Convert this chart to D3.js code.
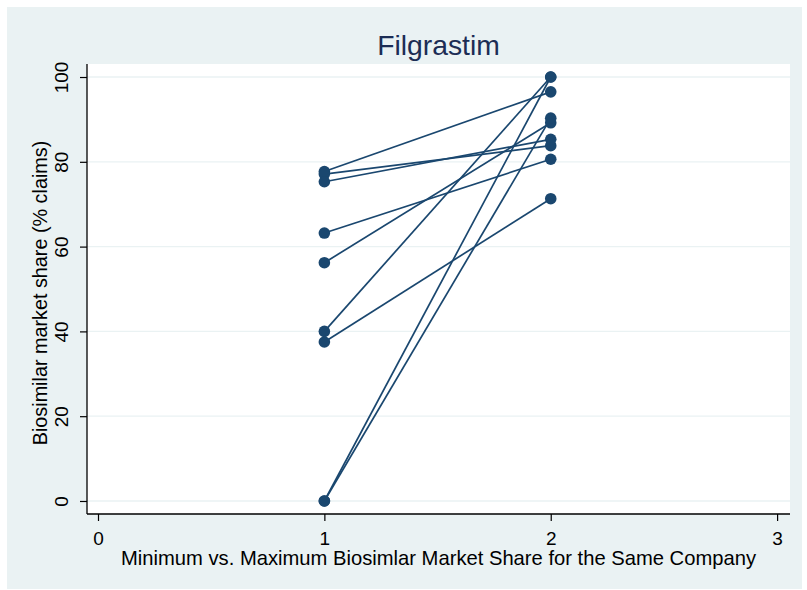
<!DOCTYPE html>
<html>
<head>
<meta charset="utf-8">
<script src="https://cdn.jsdelivr.net/npm/d3@7"></script>
<style>
  html, body { margin: 0; padding: 0; background: #ffffff; }
  svg { display: block; font-family: "Liberation Sans", Arial, sans-serif; }
</style>
</head>
<body>
<svg id="chart" width="807" height="590"></svg>
<script>
// ---- data ----
const chartTitle = "Filgrastim";
const xTitle = "Minimum vs. Maximum Biosimlar Market Share for the Same Company";
const yTitle = "Biosimilar market share (% claims)";
const xTicks = [0, 1, 2, 3];
const yTicks = [0, 20, 40, 60, 80, 100];
const minPosition = 1;
const maxPosition = 2;
// minimum share (x = 1) and maximum share (x = 2) for the same company
const minShare = [77.7, 77.1, 75.3, 63.2, 56.2, 40.0, 37.5, 0.0, 0.0];
const maxShare = [96.5, 83.8, 85.3, 80.6, 89.2, 100.0, 71.3, 100.0, 90.3];

// ---- layout ----
const svg = d3.select("#chart");
const plot = { left: 87, right: 790, top: 64, bottom: 514 };
const navy = "#1a476f";
const bg = "#eaf2f3";

const x = d3.scaleLinear().domain([-0.0486, 3.057]).range([plot.left, plot.right]);
const y = d3.scaleLinear().domain([-3.07, 103.07]).range([plot.bottom, plot.top]);

// outer background
svg.append("rect").attr("x", 7).attr("y", 7).attr("width", 795).attr("height", 582).attr("fill", bg);
// plot region
svg.append("rect").attr("x", plot.left).attr("y", plot.top)
  .attr("width", plot.right - plot.left).attr("height", plot.bottom - plot.top).attr("fill", "#ffffff");

// gridlines
svg.append("g").selectAll("line").data(yTicks).join("line")
  .attr("x1", plot.left).attr("x2", plot.right)
  .attr("y1", d => y(d)).attr("y2", d => y(d))
  .attr("stroke", bg).attr("stroke-width", 1.3);

// y axis
const yAxis = d3.axisLeft(y).tickValues(yTicks).tickSize(7).tickPadding(5).tickFormat(d3.format("d"));
const gy = svg.append("g").attr("transform", `translate(${plot.left},0)`).call(yAxis);
gy.select(".domain").attr("d", `M0,${plot.top}V${plot.bottom}`).attr("stroke", "#000").attr("stroke-width", 1.3);
gy.selectAll(".tick line").attr("stroke", "#000").attr("stroke-width", 1.2);
gy.selectAll(".tick text")
  .attr("font-size", 19).attr("fill", "#000")
  .attr("text-anchor", "middle")
  .attr("x", null).attr("dy", null)
  .attr("transform", "translate(-19,0) rotate(-90)");

// x axis
const xAxis = d3.axisBottom(x).tickValues(xTicks).tickSize(7).tickPadding(5).tickFormat(d3.format("d"));
const gx = svg.append("g").attr("transform", `translate(0,${plot.bottom})`).call(xAxis);
gx.select(".domain").attr("d", `M${plot.left},0H${plot.right}`).attr("stroke", "#000").attr("stroke-width", 1.3);
gx.selectAll(".tick line").attr("stroke", "#000").attr("stroke-width", 1.2);
gx.selectAll(".tick text").attr("font-size", 19).attr("fill", "#000").attr("y", 31).attr("dy", null);

// titles
svg.append("text").attr("x", (plot.left + plot.right) / 2).attr("y", 55)
  .attr("text-anchor", "middle").attr("font-size", 28.3).attr("fill", "#1c2d55").text(chartTitle);
svg.append("text").attr("x", 438.5).attr("y", 565)
  .attr("text-anchor", "middle").attr("font-size", 20.2).attr("fill", "#000").text(xTitle);
svg.append("text").attr("transform", `translate(47,${(plot.top + plot.bottom) / 2 + 4}) rotate(-90)`)
  .attr("text-anchor", "middle").attr("font-size", 19.8).attr("fill", "#000").text(yTitle);

// connecting lines
const pairs = minShare.map((v, i) => ({ lo: v, hi: maxShare[i] }));
svg.append("g").selectAll("line").data(pairs).join("line")
  .attr("x1", x(minPosition)).attr("y1", d => y(d.lo))
  .attr("x2", x(maxPosition)).attr("y2", d => y(d.hi))
  .attr("stroke", navy).attr("stroke-width", 1.7);

// markers
const pts = [];
pairs.forEach(d => { pts.push([minPosition, d.lo]); pts.push([maxPosition, d.hi]); });
svg.append("g").selectAll("circle").data(pts).join("circle")
  .attr("cx", d => x(d[0])).attr("cy", d => y(d[1])).attr("r", 5.8)
  .attr("fill", navy);
</script>
</body>
</html>
